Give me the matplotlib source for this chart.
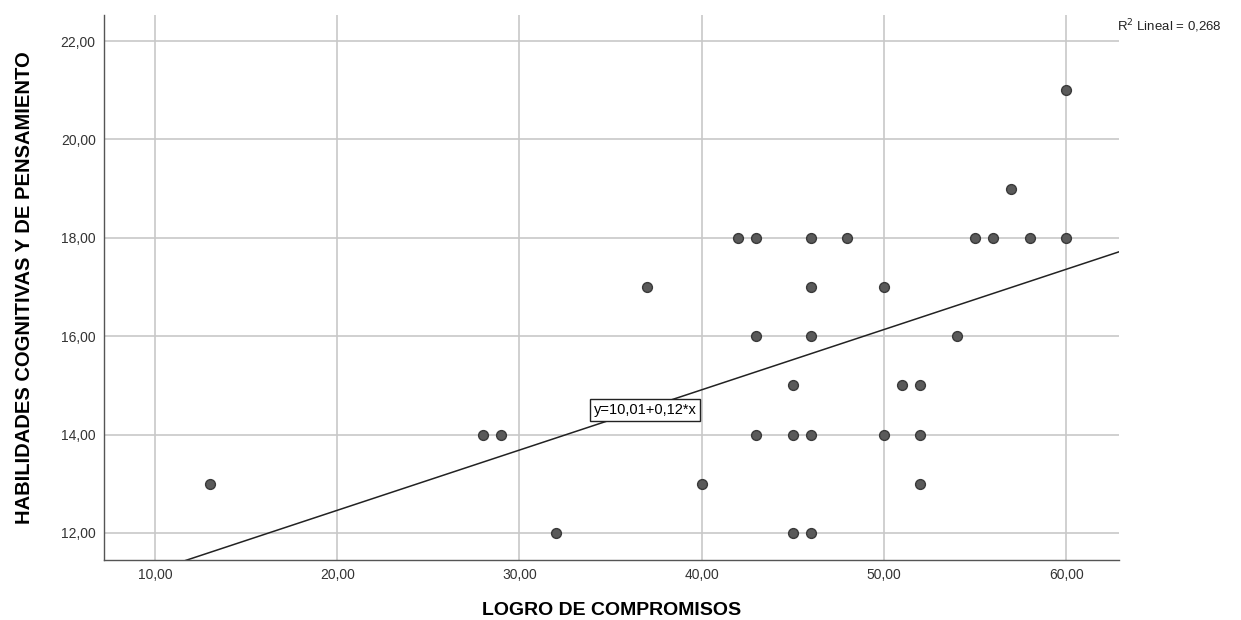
import matplotlib
matplotlib.use("Agg")
import matplotlib.pyplot as plt
import numpy as np

plt.rcParams['font.family'] = ['Liberation Sans', 'DejaVu Sans']

logro = [13, 28, 29, 32, 37, 40, 42, 43, 43, 43, 45, 45, 46, 45, 46,
         46, 46, 46, 48, 50, 50, 51, 52, 52, 52, 54, 55, 56, 58, 60, 57, 60]
habil = [13, 14, 14, 12, 17, 13, 18, 18, 16, 14, 15, 14, 14, 12, 12,
         18, 17, 16, 18, 17, 14, 15, 15, 14, 13, 16, 18, 18, 18, 18, 19, 21]

intercept = 10.01
slope = 0.1225
eq_label = "y=10,01+0,12*x"
r2_label = "R$^2$ Lineal = 0,268"
xticks = [10, 20, 30, 40, 50, 60]
yticks = [12, 14, 16, 18, 20, 22]

fig = plt.figure(figsize=(12.41, 6.2), dpi=100)
ax = fig.add_axes([0.0838, 0.0968, 0.8179, 0.879])
xmin, xmax = 7.2, 62.9
ymin, ymax = 11.45, 22.53
ax.set_xlim(xmin, xmax)
ax.set_ylim(ymin, ymax)

ax.set_xticks(xticks)
ax.set_yticks(yticks)
ax.set_xticklabels([f"{v:.2f}".replace('.', ',') for v in xticks], fontsize=10, color='#333333')
ax.set_yticklabels([f"{v:.2f}".replace('.', ',') for v in yticks], fontsize=10, color='#333333')
ax.grid(True, color='#c8c8c8', linewidth=1.2)
ax.set_axisbelow(True)
ax.tick_params(length=0, pad=6)
for s in ['top', 'right']:
    ax.spines[s].set_visible(False)
for s in ['left', 'bottom']:
    ax.spines[s].set_color('#555555')
    ax.spines[s].set_linewidth(1.0)

xs = np.array([xmin, xmax])
ax.plot(xs, intercept + slope * xs, color='#222222', linewidth=1.1, zorder=2)

ax.scatter(logro, habil, s=50, color='#5a5a5a', edgecolors='#3a3a3a', linewidths=1.0, zorder=3)

ax.text(36.9, 14.5, eq_label, fontsize=10.5, ha='center', va='center', zorder=4,
        bbox=dict(boxstyle='square,pad=0.25', facecolor='white', edgecolor='#222222', linewidth=1.0))

fig.text(0.9, 0.958, r2_label, fontsize=9.5, ha='left', va='center', color='#222222')

ax.set_xlabel("LOGRO DE COMPROMISOS", fontsize=14, fontweight='bold', labelpad=14)
ax.set_ylabel("HABILIDADES COGNITIVAS Y DE PENSAMIENTO", fontsize=14.5, fontweight='bold', labelpad=19)

fig.savefig("out.png", dpi=100)
